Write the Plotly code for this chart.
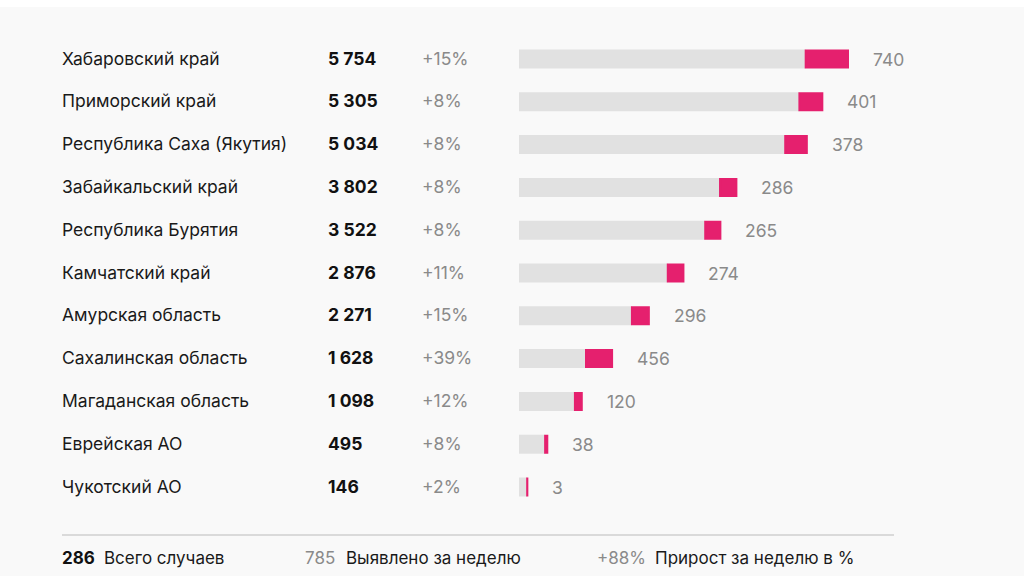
import plotly.graph_objects as go

regions = ["Хабаровский край", "Приморский край", "Республика Саха (Якутия)",
           "Забайкальский край", "Республика Бурятия", "Камчатский край",
           "Амурская область", "Сахалинская область", "Магаданская область",
           "Еврейская АО", "Чукотский АО"]
totals = [5754, 5305, 5034, 3802, 3522, 2876, 2271, 1628, 1098, 495, 146]
new_cases = [740, 401, 378, 286, 265, 274, 296, 456, 120, 38, 3]
growth = [15, 8, 8, 8, 8, 11, 15, 39, 12, 8, 2]

footer_total = "286"
footer_total_label = "Всего случаев"
footer_new = "785"
footer_new_label = "Выявлено за неделю"
footer_growth = "+88%"
footer_growth_label = "Прирост за неделю в %"

W, H = 1024, 576
FONT = "Inter"
GRAY_TXT = "#8a8a8a"

def fmt(n):
    return f"{n:,}".replace(",", " ")

idx = list(range(len(regions)))
base = [t - n for t, n in zip(totals, new_cases)]

# pixel geometry
row0, step = 59, 42.8
bar_px = 19
x0_px = 519
scale = 329 / 5754.0  # px per case
x_range_max = (W - x0_px) / scale
PAD = 2  # annotation inner padding compensation

fig = go.Figure()
fig.add_trace(go.Bar(y=idx, x=base, orientation="h", marker=dict(color="#e1e1e1", line=dict(width=0)),
                     width=bar_px / step, hoverinfo="skip"))
fig.add_trace(go.Bar(y=idx, x=new_cases, base=base, orientation="h",
                     marker=dict(color="#e5206e", line=dict(width=2, color="#e5206e")),
                     width=(bar_px - 2) / step, hoverinfo="skip"))

ann = []
for i in idx:
    ann.append(dict(x=(62 - PAD) / W, xref="paper", y=i, yref="y", text=regions[i], showarrow=False,
                    xanchor="left", yanchor="middle", yshift=1,
                    font=dict(size=17.5, color="#1a1a1a", family=FONT)))
    ann.append(dict(x=(328 - PAD) / W, xref="paper", y=i, yref="y", text="<b>" + fmt(totals[i]) + "</b>",
                    showarrow=False, xanchor="left", yanchor="middle", yshift=1,
                    font=dict(size=17.5, color="#111111", family=FONT)))
    ann.append(dict(x=(422 - PAD) / W, xref="paper", y=i, yref="y", text=f"+{growth[i]}%", showarrow=False,
                    xanchor="left", yanchor="middle", yshift=1,
                    font=dict(size=17.5, color=GRAY_TXT, family=FONT)))
    ann.append(dict(x=totals[i], xref="x", y=i, yref="y", text=str(new_cases[i]), showarrow=False,
                    xanchor="left", yanchor="middle", xshift=23, yshift=0,
                    font=dict(size=17.5, color=GRAY_TXT, family=FONT)))

fy = 1 - 558 / H
foot = [
    (62, "<b>" + footer_total + "</b>", "#111111"),
    (104, footer_total_label, "#1a1a1a"),
    (305, footer_new, GRAY_TXT),
    (346, footer_new_label, "#1a1a1a"),
    (597, footer_growth, GRAY_TXT),
    (655, footer_growth_label, "#1a1a1a"),
]
for xp, t, c in foot:
    ann.append(dict(x=(xp - PAD) / W, xref="paper", y=fy, yref="paper", text=t, showarrow=False,
                    xanchor="left", yanchor="middle", font=dict(size=17, color=c, family=FONT)))

shapes = [
    dict(type="rect", xref="paper", yref="paper", x0=0, x1=1, y0=1 - 7 / H, y1=1,
         fillcolor="white", line=dict(width=0), layer="below"),
    dict(type="line", xref="paper", yref="paper", x0=62 / W, x1=894 / W, y0=1 - 535 / H, y1=1 - 535 / H,
         line=dict(color="#cfcfcf", width=1.5)),
]

fig.update_layout(
    width=W, height=H, margin=dict(l=0, r=0, t=0, b=0),
    paper_bgcolor="#f9f9f9", plot_bgcolor="rgba(0,0,0,0)",
    barmode="overlay", showlegend=False,
    xaxis=dict(domain=[x0_px / W, 1], range=[0, x_range_max], visible=False, fixedrange=True),
    yaxis=dict(range=[(H - row0) / step, -row0 / step], visible=False, fixedrange=True),
    annotations=ann, shapes=shapes,
    font=dict(family=FONT),
)

fig.write_html("out.html", config={"displayModeBar": False},
               post_script="document.body.style.margin='0';document.body.style.overflow='hidden';")
